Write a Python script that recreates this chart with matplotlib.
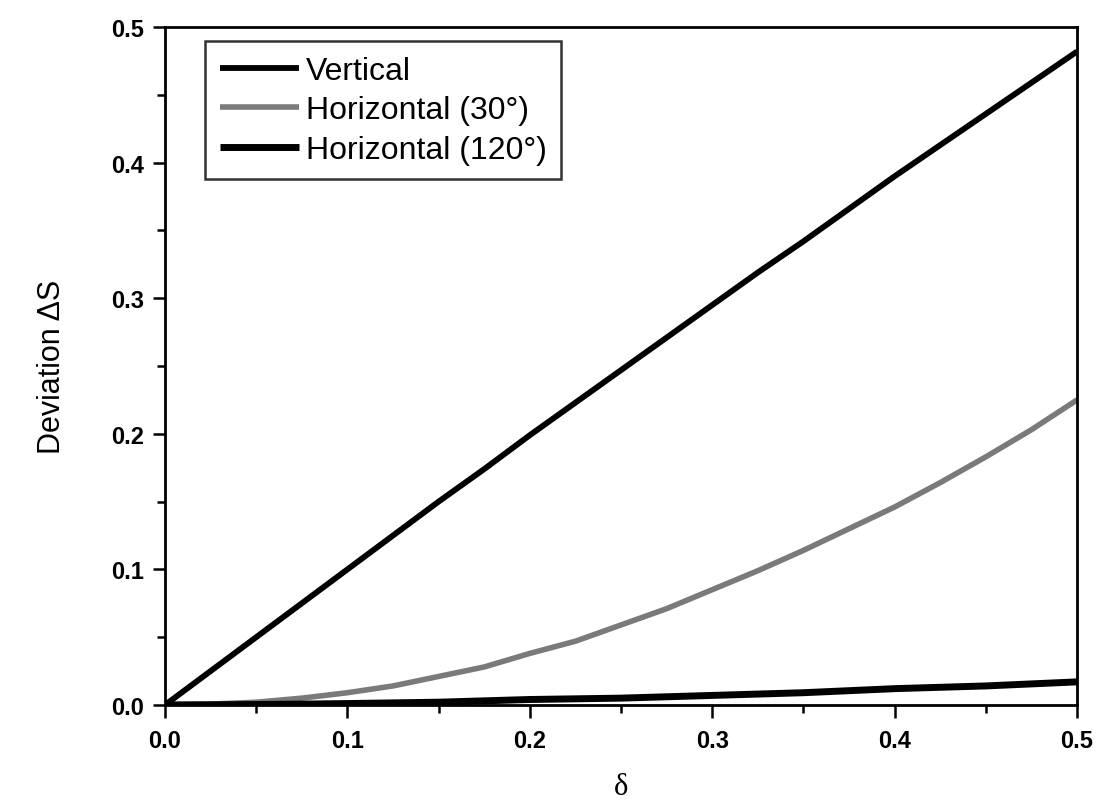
import matplotlib.pyplot as plt
from matplotlib.ticker import MultipleLocator

# values
delta = [0.0, 0.025, 0.05, 0.075, 0.1, 0.125, 0.15, 0.175, 0.2, 0.225, 0.25,
         0.275, 0.3, 0.325, 0.35, 0.375, 0.4, 0.425, 0.45, 0.475, 0.5]
vertical = [0.0, 0.025, 0.050, 0.075, 0.100, 0.125, 0.150, 0.174, 0.199, 0.223, 0.247,
            0.271, 0.295, 0.319, 0.342, 0.366, 0.390, 0.413, 0.436, 0.459, 0.482]
horiz_30 = [0.0, 0.0006, 0.002, 0.005, 0.009, 0.014, 0.021, 0.028, 0.038, 0.047, 0.059,
            0.071, 0.085, 0.099, 0.114, 0.130, 0.146, 0.164, 0.183, 0.203, 0.225]
horiz_120 = [0.0, 0.0001, 0.0003, 0.0006, 0.001, 0.0015, 0.002, 0.003, 0.004, 0.0045, 0.005,
             0.006, 0.007, 0.008, 0.009, 0.0105, 0.012, 0.013, 0.014, 0.0155, 0.017]

labels = ["Vertical", "Horizontal (30\u00b0)", "Horizontal (120\u00b0)"]

plt.rcParams['font.family'] = ['Liberation Sans', 'DejaVu Sans']

fig = plt.figure(figsize=(11.19, 8.04), dpi=100)
ax = fig.add_axes([0.1475, 0.122, 0.815, 0.843])

ax.plot(delta, vertical, color='black', lw=4.2, label=labels[0], solid_capstyle='butt')
ax.plot(delta, horiz_30, color='#7a7a7a', lw=4.0, label=labels[1], solid_capstyle='butt')
ax.plot(delta, horiz_120, color='black', lw=5.0, label=labels[2], solid_capstyle='butt')

ax.set_xlim(0, 0.5)
ax.set_ylim(0, 0.5)
ax.xaxis.set_major_locator(MultipleLocator(0.1))
ax.xaxis.set_minor_locator(MultipleLocator(0.05))
ax.yaxis.set_major_locator(MultipleLocator(0.1))
ax.yaxis.set_minor_locator(MultipleLocator(0.05))
ax.tick_params(which='both', direction='out', width=1.8, top=False, right=False)
ax.tick_params(which='major', length=9, labelsize=17)
ax.tick_params(axis='x', which='major', pad=8)
ax.tick_params(axis='y', which='major', pad=6)
ax.tick_params(which='minor', length=6)
for lab in ax.get_xticklabels() + ax.get_yticklabels():
    lab.set_fontweight('bold')
for s in ax.spines.values():
    s.set_linewidth(2.0)

ax.set_xlabel("\u03b4", fontsize=22, family='Liberation Serif', labelpad=15)
ax.set_ylabel("Deviation \u0394S", fontsize=22, labelpad=32)

leg = ax.legend(loc='upper left', bbox_to_anchor=(0.044, 0.979), borderaxespad=0,
                fontsize=23, handlelength=2.5, handletextpad=0.2, labelspacing=0.3,
                borderpad=0.45, fancybox=False, frameon=True)
leg.get_frame().set_edgecolor('black')
leg.get_frame().set_linewidth(1.8)

fig.savefig("out.png", dpi=100)
